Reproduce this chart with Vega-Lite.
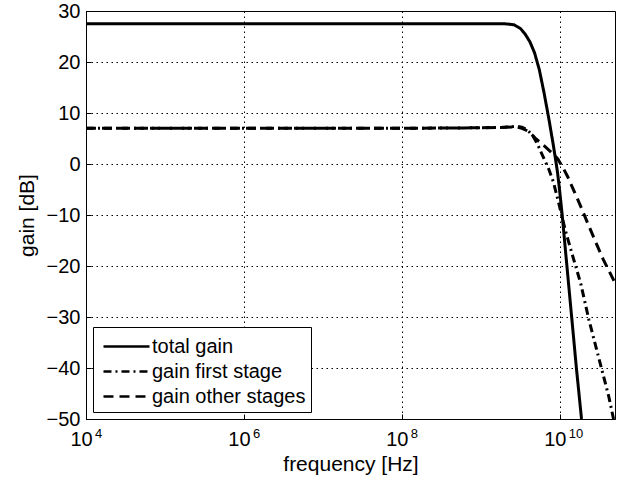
{
  "$schema": "https://vega.github.io/schema/vega-lite/v6.json",
  "width": 529,
  "height": 408,
  "autosize": {"type": "none"},
  "padding": {"left": 86, "top": 11, "right": 8, "bottom": 68},
  "background": "white",
  "config": {
    "font": "Liberation Sans",
    "view": {"stroke": "black", "strokeWidth": 1},
    "axis": {
      "domainColor": "black",
      "gridColor": "black",
      "gridOpacity": 1,
      "gridWidth": 1,
      "gridDash": [1.5, 3.5],
      "tickColor": "black",
      "labelColor": "black",
      "titleColor": "black",
      "labelFont": "Liberation Sans",
      "titleFont": "Liberation Sans",
      "labelFontSize": 20,
      "titleFontSize": 21,
      "titleFontWeight": "normal"
    }
  },
  "layer": [
    {
      "data": {
        "values": [
          {"f": 1e4, "g": 27.5, "s": "total gain"},
          {"f": 1e5, "g": 27.5, "s": "total gain"},
          {"f": 1e6, "g": 27.5, "s": "total gain"},
          {"f": 1e7, "g": 27.5, "s": "total gain"},
          {"f": 1e8, "g": 27.5, "s": "total gain"},
          {"f": 1e9, "g": 27.5, "s": "total gain"},
          {"f": 2e9, "g": 27.5, "s": "total gain"},
          {"f": 2.63e9, "g": 27.3, "s": "total gain"},
          {"f": 3.16e9, "g": 26.6, "s": "total gain"},
          {"f": 3.63e9, "g": 25.5, "s": "total gain"},
          {"f": 4.17e9, "g": 24.0, "s": "total gain"},
          {"f": 4.79e9, "g": 21.8, "s": "total gain"},
          {"f": 5.50e9, "g": 18.5, "s": "total gain"},
          {"f": 6.31e9, "g": 14.0, "s": "total gain"},
          {"f": 7.24e9, "g": 9.0, "s": "total gain"},
          {"f": 8.32e9, "g": 3.5, "s": "total gain"},
          {"f": 9.33e9, "g": -1.5, "s": "total gain"},
          {"f": 1.0e10, "g": -5.5, "s": "total gain"},
          {"f": 1.072e10, "g": -10.0, "s": "total gain"},
          {"f": 1.23e10, "g": -20.0, "s": "total gain"},
          {"f": 1.413e10, "g": -30.0, "s": "total gain"},
          {"f": 1.622e10, "g": -40.0, "s": "total gain"},
          {"f": 1.884e10, "g": -50.0, "s": "total gain"},

          {"f": 1e4, "g": 7.0, "s": "gain first stage"},
          {"f": 1e5, "g": 7.0, "s": "gain first stage"},
          {"f": 1e6, "g": 7.0, "s": "gain first stage"},
          {"f": 1e7, "g": 7.0, "s": "gain first stage"},
          {"f": 1e8, "g": 7.0, "s": "gain first stage"},
          {"f": 1e9, "g": 7.1, "s": "gain first stage"},
          {"f": 2e9, "g": 7.2, "s": "gain first stage"},
          {"f": 2.82e9, "g": 7.4, "s": "gain first stage"},
          {"f": 3.31e9, "g": 7.2, "s": "gain first stage"},
          {"f": 3.89e9, "g": 6.7, "s": "gain first stage"},
          {"f": 4.57e9, "g": 5.5, "s": "gain first stage"},
          {"f": 5.25e9, "g": 3.8, "s": "gain first stage"},
          {"f": 5.75e9, "g": 2.4, "s": "gain first stage"},
          {"f": 7.24e9, "g": -1.0, "s": "gain first stage"},
          {"f": 8.32e9, "g": -3.6, "s": "gain first stage"},
          {"f": 1.0e10, "g": -8.5, "s": "gain first stage"},
          {"f": 1.175e10, "g": -13.0, "s": "gain first stage"},
          {"f": 1.38e10, "g": -16.8, "s": "gain first stage"},
          {"f": 1.845e10, "g": -23.5, "s": "gain first stage"},
          {"f": 2.34e10, "g": -30.6, "s": "gain first stage"},
          {"f": 3.09e10, "g": -37.8, "s": "gain first stage"},
          {"f": 4.17e10, "g": -45.6, "s": "gain first stage"},
          {"f": 4.79e10, "g": -50.0, "s": "gain first stage"},

          {"f": 1e4, "g": 7.0, "s": "gain other stages"},
          {"f": 1e5, "g": 7.0, "s": "gain other stages"},
          {"f": 1e6, "g": 7.0, "s": "gain other stages"},
          {"f": 1e7, "g": 7.0, "s": "gain other stages"},
          {"f": 1e8, "g": 7.0, "s": "gain other stages"},
          {"f": 1e9, "g": 7.1, "s": "gain other stages"},
          {"f": 2e9, "g": 7.2, "s": "gain other stages"},
          {"f": 2.82e9, "g": 7.3, "s": "gain other stages"},
          {"f": 3.31e9, "g": 7.0, "s": "gain other stages"},
          {"f": 3.89e9, "g": 6.5, "s": "gain other stages"},
          {"f": 4.27e9, "g": 6.0, "s": "gain other stages"},
          {"f": 5.01e9, "g": 4.9, "s": "gain other stages"},
          {"f": 6.31e9, "g": 3.6, "s": "gain other stages"},
          {"f": 7.94e9, "g": 2.2, "s": "gain other stages"},
          {"f": 9.44e9, "g": 1.0, "s": "gain other stages"},
          {"f": 1.122e10, "g": -1.0, "s": "gain other stages"},
          {"f": 1.259e10, "g": -2.5, "s": "gain other stages"},
          {"f": 1.585e10, "g": -6.0, "s": "gain other stages"},
          {"f": 1.862e10, "g": -8.5, "s": "gain other stages"},
          {"f": 2.239e10, "g": -11.5, "s": "gain other stages"},
          {"f": 2.884e10, "g": -15.5, "s": "gain other stages"},
          {"f": 3.548e10, "g": -18.7, "s": "gain other stages"},
          {"f": 5.0e10, "g": -23.3, "s": "gain other stages"}
        ]
      },
      "mark": {"type": "line", "strokeWidth": 3, "color": "black", "clip": true},
      "encoding": {
        "x": {
          "field": "f",
          "type": "quantitative",
          "scale": {"type": "log", "domain": [1e4, 5e10], "nice": false},
          "axis": {
            "title": "frequency [Hz]",
            "values": [1e4, 1e6, 1e8, 1e10],
            "labelExpr": "'10'",
            "labelBaseline": "alphabetic",
            "labelFlush": false,
            "labelBound": false,
            "labelOverlap": false,
            "labelOffset": -5,
            "tickSize": -5,
            "labelPadding": 31,
            "titlePadding": 4
          }
        },
        "y": {
          "field": "g",
          "type": "quantitative",
          "scale": {"domain": [-50, 30], "nice": false},
          "axis": {
            "title": "gain [dB]",
            "values": [-50, -40, -30, -20, -10, 0, 10, 20, 30],
            "labelFlush": false,
            "labelOverlap": false,
            "tickSize": -5,
            "labelPadding": 11,
            "titlePadding": 9
          }
        },
        "strokeDash": {
          "field": "s",
          "type": "nominal",
          "scale": {
            "domain": ["total gain", "gain first stage", "gain other stages"],
            "range": [[1, 0], [8, 4, 2, 4], [10, 6]]
          },
          "legend": {
            "orient": "none",
            "legendX": 7,
            "legendY": 316,
            "title": null,
            "symbolType": "M-1.77,0H1.77",
            "symbolSize": 676,
            "symbolOffset": 14,
            "labelOffset": 11,
            "symbolStrokeWidth": 2.5,
            "symbolStrokeColor": "black",
            "symbolFillColor": "transparent",
            "labelFontSize": 20,
            "labelFont": "Liberation Sans",
            "labelColor": "black",
            "strokeColor": "black",
            "fillColor": "white",
            "padding": 5,
            "rowPadding": 0,
            "cornerRadius": 0
          }
        },
        "order": {"field": "f", "type": "quantitative"}
      }
    },
    {
      "data": {
        "values": [
          {"f": 1e4, "e": "4"},
          {"f": 1e6, "e": "6"},
          {"f": 1e8, "e": "8"},
          {"f": 1e10, "e": "10"}
        ]
      },
      "mark": {
        "type": "text",
        "align": "left",
        "baseline": "alphabetic",
        "dx": 9,
        "dy": 19,
        "fontSize": 13,
        "font": "Liberation Sans",
        "color": "black",
        "clip": false
      },
      "encoding": {
        "x": {"field": "f", "type": "quantitative"},
        "y": {"datum": -50},
        "text": {"field": "e", "type": "nominal"}
      }
    }
  ]
}
